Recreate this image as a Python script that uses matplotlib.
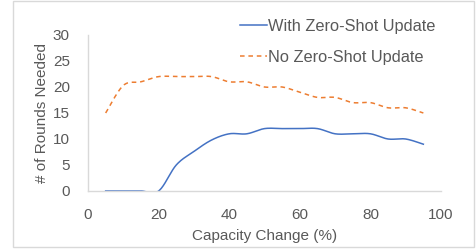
import matplotlib.pyplot as plt
import numpy as np
from matplotlib.patches import Rectangle

# data
capacity = [5, 10, 15, 20, 25, 30, 35, 40, 45, 50, 55, 60, 65, 70, 75, 80, 85, 90, 95]
with_zs = [0, 0, 0, 0, 5, 7.6, 9.8, 11, 11, 12, 12, 12, 12, 11, 11, 11, 10, 10, 9]
no_zs = [15, 20.3, 21, 22, 22, 22, 22, 21, 21, 20, 20, 19, 18, 18, 17, 17, 16, 16, 15]

x_ticks = [0, 20, 40, 60, 80, 100]
y_ticks = [0, 5, 10, 15, 20, 25, 30]


def smooth(x, y, n=20):
    # excel style smoothed line (catmull-rom as bezier)
    x = np.asarray(x, float)
    y = np.asarray(y, float)
    pts = np.column_stack([x, y])
    pts = np.vstack([pts[0], pts, pts[-1]])
    out = []
    t = np.linspace(0, 1, n)[:, None]
    for i in range(1, len(pts) - 2):
        p0, p1, p2, p3 = pts[i - 1], pts[i], pts[i + 1], pts[i + 2]
        c1 = p1 + (p2 - p0) / 6
        c2 = p2 - (p3 - p1) / 6
        seg = ((1 - t) ** 3) * p1 + 3 * ((1 - t) ** 2) * t * c1 + 3 * (1 - t) * t ** 2 * c2 + t ** 3 * p2
        out.append(seg if i == 1 else seg[1:])
    out = np.vstack(out)
    return out[:, 0], out[:, 1]


plt.rcParams['font.family'] = ['Liberation Sans', 'DejaVu Sans']
txt = '#595959'
grid = '#D9D9D9'

fig = plt.figure(figsize=(4.76, 2.5), dpi=100)
fig.patches.append(Rectangle((13 / 476, 3 / 250), 461 / 476, 246 / 250, transform=fig.transFigure,
                             fill=False, edgecolor=grid, linewidth=1))
ax = fig.add_axes([88 / 476, 1 - 191 / 250, 353 / 476, 156 / 250])

sx, sy = smooth(capacity, with_zs)
ax.plot(sx, sy, color='#4472C4', linewidth=1.1, label='With Zero-Shot Update')
sx, sy = smooth(capacity, no_zs)
ax.plot(sx, sy, color='#ED7D31', linewidth=1.1, linestyle=(0, (3, 2.5)), label='No Zero-Shot Update')

ax.set_xlim(0, 100)
ax.set_ylim(0, 30)
ax.set_xticks(x_ticks)
ax.set_yticks(y_ticks)
ax.tick_params(length=0, labelsize=11, colors=txt)
ax.tick_params(axis='y', pad=13)
ax.tick_params(axis='x', pad=12)
for s in ['top', 'right']:
    ax.spines[s].set_visible(False)
for s in ['left', 'bottom']:
    ax.spines[s].set_color(grid)
    ax.spines[s].set_linewidth(1)

ax.set_xlabel('Capacity Change (%)', fontsize=11, color=txt, labelpad=5)
ax.set_ylabel('# of Rounds Needed', fontsize=11, color=txt, labelpad=3)

leg = ax.legend(loc='upper left', bbox_to_anchor=(0.39, 1.2), frameon=False, fontsize=11.8,
                handlelength=1.6, handletextpad=0.1, labelspacing=1.0, labelcolor=txt)

fig.savefig('out.png', dpi=100)
